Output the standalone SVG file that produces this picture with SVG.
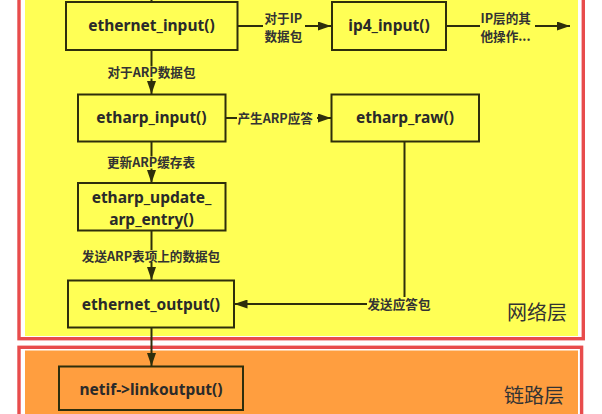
<svg xmlns="http://www.w3.org/2000/svg" width="602" height="414" viewBox="0 0 602 414">
<style>
.layer{stroke:#e84c4c;stroke-width:3.4;fill:none}
.node rect{stroke:#2e2e0c;stroke-width:2}
.ny{fill:#ffff55}
.no{fill:#ff9e3f}
.nt{font-family:"Noto Sans","Noto Sans CJK SC",sans-serif;font-weight:bold;font-size:15.5px;fill:#2a2a2a;text-anchor:middle}
.lbl{font-family:"Noto Sans CJK SC","Noto Sans",sans-serif;font-weight:bold;font-size:12.6px;fill:#333}
.big{font-family:"Noto Sans CJK SC",sans-serif;font-size:20px;fill:#333}
.conn path{stroke:#2e2e0c;stroke-width:2;fill:none}
.arr{marker-end:url(#ah)}
</style>
<defs>
<marker id="ah" viewBox="0 0 13 9" refX="13" refY="4.5" markerWidth="13" markerHeight="9" markerUnits="userSpaceOnUse" orient="auto">
<path d="M0,0 L13,4.5 L0,9 z" fill="#2e2e0c"/>
</marker>
</defs>
<rect width="602" height="414" fill="#ffffff"/>
<g id="network-layer">
<rect x="25" y="-10" width="553" height="346" fill="#ffff55"/>
<rect class="layer" x="19" y="-20" width="564.3" height="358.7"/>
<text class="big" x="507" y="320">网络层</text>
</g>
<g id="link-layer">
<rect x="25" y="350.5" width="553" height="80" fill="#ff9e3f"/>
<rect class="layer" x="19" y="347.3" width="562.6" height="90"/>
<text class="big" x="504" y="403">链路层</text>
</g>
<g id="ethernet_input" class="node"><rect class="ny" x="66" y="2" width="171.5" height="48"/><text class="nt" x="151.5" y="31">ethernet_input()</text></g>
<g id="ip4_input" class="node"><rect class="ny" x="332" y="2" width="114" height="48"/><text class="nt" x="389" y="31">ip4_input()</text></g>
<g id="etharp_input" class="node"><rect class="ny" x="78" y="94.5" width="147.5" height="47"/><text class="nt" x="151.5" y="123">etharp_input()</text></g>
<g id="etharp_raw" class="node"><rect class="ny" x="331.5" y="94.5" width="147.5" height="47"/><text class="nt" x="405" y="123">etharp_raw()</text></g>
<g id="etharp_update_arp_entry" class="node"><rect class="ny" x="78" y="183" width="147.5" height="47.5"/><text class="nt" x="151.5" y="203">etharp_update_</text><text class="nt" x="151.5" y="224.5">arp_entry()</text></g>
<g id="ethernet_output" class="node"><rect class="ny" x="68" y="280.5" width="166" height="47"/><text class="nt" x="151" y="310">ethernet_output()</text></g>
<g id="netif_linkoutput" class="node"><rect class="no" x="59" y="366.5" width="184" height="43.5"/><text class="nt" x="151" y="395">netif-&gt;linkoutput()</text></g>
<g id="connectors" class="conn">
<path d="M151.5,0 V2"/>
<path d="M237.5,26 H263"/>
<path class="arr" d="M305,26 H331"/>
<path d="M446,26 H480"/>
<path class="arr" d="M535,26 H570"/>
<path d="M151.5,50 V66.5"/>
<path class="arr" d="M151.5,78.5 V94"/>
<path d="M225.5,118 H237"/>
<path class="arr" d="M317,118 H331"/>
<path d="M151.5,141.5 V156.5"/>
<path class="arr" d="M151.5,168.5 V183"/>
<path d="M151.5,230.5 V250"/>
<path class="arr" d="M151.5,262 V280"/>
<path d="M404.5,141.5 V297"/>
<path class="arr" d="M367,304 H234.5"/>
<path class="arr" d="M151.5,327.5 V366"/>
<text class="lbl" x="264.5" y="22.5">对于IP</text>
<text class="lbl" x="264.5" y="40.8">数据包</text>
<text class="lbl" x="480.5" y="22.5">IP层的其</text>
<text class="lbl" x="480.5" y="40.8">他操作...</text>
<text class="lbl" x="151.5" y="77.3" text-anchor="middle">对于ARP数据包</text>
<text class="lbl" x="237.5" y="123.3">产生ARP应答</text>
<text class="lbl" x="151" y="167.3" text-anchor="middle">更新ARP缓存表</text>
<text class="lbl" x="151" y="260.8" text-anchor="middle">发送ARP表项上的数据包</text>
<text class="lbl" x="367.5" y="308.8">发送应答包</text>
</g>
</svg>
